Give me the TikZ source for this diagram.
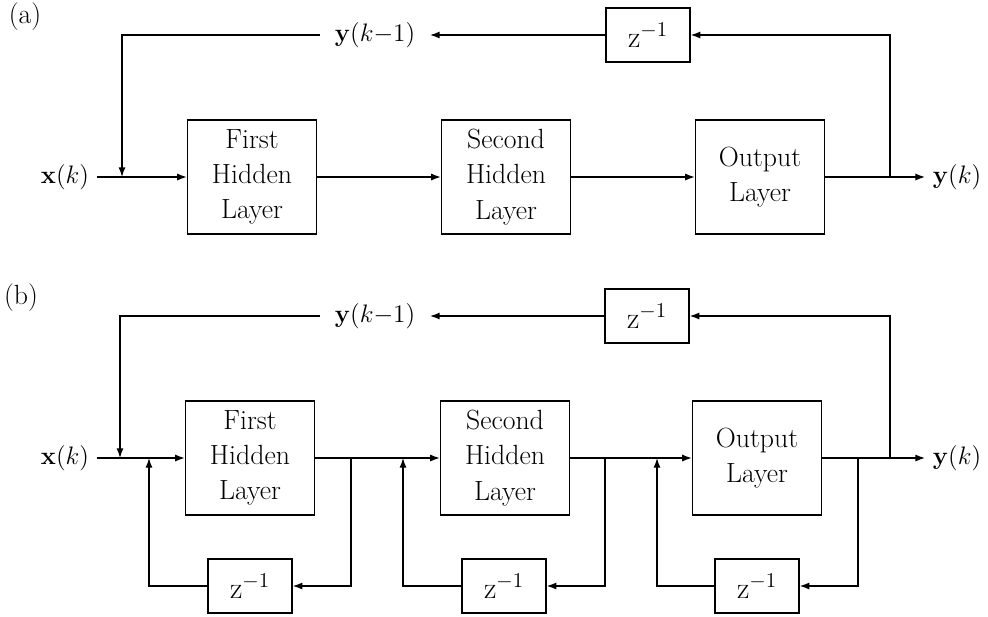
\documentclass[tikz,border=0pt]{standalone}
\usetikzlibrary{arrows.meta, positioning}

\begin{document}
\begin{tikzpicture}[x = 0.02cm, y = -0.02cm, > = {Latex[length=5.5pt, width=4pt]},
	line width = 0.75pt, font = \fontsize{15.8}{20}\selectfont,
	layer/.style = {draw, minimum width = 2.58cm, minimum height = 2.28cm, inner sep = 0pt, align = center},
	delay/.style = {draw, minimum width = 1.68cm, minimum height = 1.08cm, inner sep = 0pt,
		font = \fontsize{17.5}{20}\selectfont},
	sig/.style = {inner sep = 4pt},
	past/.style = {inner xsep = 8pt}]

	\useasboundingbox (0, 0) rectangle (988, 616);

	% Definitions

	\def\ya{177}		% Signal line, panel (a)
	\def\yb{458}		% Signal line, panel (b)

	% Panel labels

	\node (taga) at (25, 17) {(a)};
	\node (tagb) at (21, 298) {(b)};

	% Panel (a): blocks

	\node [sig]   (xa)  at (65, \ya)  {$\mathbf{x}(k)$};
	\node [layer] (h1a) at (252, \ya) {First\\Hidden\\Layer};
	\node [layer] (h2a) at (506, \ya) {Second\\Hidden\\Layer};
	\node [layer] (oua) at (760, \ya) {Output\\Layer};
	\node [sig]   (yka) at (957, \ya) {$\mathbf{y}(k)$};
	\node [delay] (za)  at (648, 35)  {$\mathrm{z}^{-1}$};
	\node [past]  (ypa) at (375, 35)  {$\mathbf{y}(k{-}1)$};

	% Panel (a): connectors

	\coordinate (ja) at (122, \ya);
	\coordinate (fa) at (890, \ya);
	\draw [->] (xa) -- (h1a);
	\draw [->] (h1a) -- (h2a);
	\draw [->] (h2a) -- (oua);
	\draw [->] (oua) -- (yka);
	\draw [->] (fa) |- (za);
	\draw [->] (za) -- (ypa);
	\draw [->] (ypa) -| (ja);

	% Panel (b): blocks

	\node [sig]   (xb)  at (65, \yb)  {$\mathbf{x}(k)$};
	\node [layer] (h1b) at (250, \yb) {First\\Hidden\\Layer};
	\node [layer] (h2b) at (505, \yb) {Second\\Hidden\\Layer};
	\node [layer] (oub) at (757, \yb) {Output\\Layer};
	\node [sig]   (ykb) at (957, \yb) {$\mathbf{y}(k)$};
	\node [delay] (zb)  at (647, 316) {$\mathrm{z}^{-1}$};
	\node [past]  (ypb) at (375, 316) {$\mathbf{y}(k{-}1)$};
	\foreach \n/\x in {1/250, 2/504, 3/757}
		\node [delay] (z\n b) at (\x, 586) {$\mathrm{z}^{-1}$};

	% Panel (b): connectors

	\coordinate (jb) at (120, \yb);
	\coordinate (fb) at (890, \yb);
	\draw [->] (xb) -- (h1b);
	\draw [->] (h1b) -- (h2b);
	\draw [->] (h2b) -- (oub);
	\draw [->] (oub) -- (ykb);
	\draw [->] (fb) |- (zb);
	\draw [->] (zb) -- (ypb);
	\draw [->] (ypb) -| (jb);

	% Local feedback through the lower delays

	\foreach \n/\s/\r in {1/351/149, 2/605/403, 3/858/657} {
		\coordinate (s\n) at (\s, \yb);
		\coordinate (r\n) at (\r, \yb);
		\draw [->] (s\n) |- (z\n b);
		\draw [->] (z\n b) -| (r\n);
	}

\end{tikzpicture}
\end{document}
